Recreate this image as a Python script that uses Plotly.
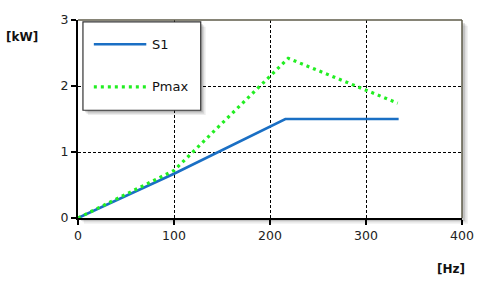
import plotly.graph_objects as go

# Data
hz_s1 = [0, 100, 216, 334]
kw_s1 = [0, 0.67, 1.5, 1.5]
hz_pmax = [0, 100, 219, 333]
kw_pmax = [0, 0.72, 2.42, 1.74]
series_names = ["S1", "Pmax"]
x_ticks = [0, 100, 200, 300, 400]
y_ticks = [0, 1, 2, 3]

W, H = 486, 290
L, R, T, B = 78, 20, 14, 72
PW, PH = W - L - R, H - T - B

def px(x):
    return (x - L) / PW

def py(y):
    return (H - B - y) / PH

S1_COLOR = "#1a6fc4"
PMAX_COLOR = "#22ee22"
FONT = "DejaVu Sans"

fig = go.Figure()
fig.add_trace(go.Scatter(x=hz_s1, y=kw_s1, mode="lines", name=series_names[0],
                         line=dict(color=S1_COLOR, width=2.6), showlegend=False))
fig.add_trace(go.Scatter(x=hz_pmax, y=kw_pmax, mode="lines", name=series_names[1],
                         line=dict(color=PMAX_COLOR, width=3.2, dash="3px,4px"),
                         showlegend=False))

shapes = []
# plot-area shadow
for off, a in [(6, 0.06), (4.5, 0.08), (3, 0.12)]:
    shapes.append(dict(type="rect", xref="paper", yref="paper", layer="below",
                       x0=px(L + off), x1=px(L + PW + off),
                       y0=py(T + off), y1=py(T + PH + off),
                       line=dict(width=0), fillcolor=f"rgba(0,0,0,{a})"))
# white plot background on top of shadow
shapes.append(dict(type="rect", xref="paper", yref="paper", layer="below",
                   x0=0, x1=1, y0=0, y1=1, line=dict(width=0), fillcolor="white"))
# top/right border
shapes.append(dict(type="line", xref="paper", yref="paper", x0=0, x1=1, y0=1, y1=1,
                   line=dict(color="#5e5b48", width=1.5), layer="above"))
shapes.append(dict(type="line", xref="paper", yref="paper", x0=1, x1=1, y0=0, y1=1,
                   line=dict(color="#5e5b48", width=1.5), layer="above"))

# manual legend box with shadow
lx0, lx1, ly0, ly1 = 83, 202, 16, 107
for off, a in [(5, 0.07), (3.5, 0.1), (2, 0.15)]:
    shapes.append(dict(type="rect", xref="paper", yref="paper", layer="above",
                       x0=px(lx0 + off), x1=px(lx1 + off),
                       y0=py(ly1 + off), y1=py(ly0 + off),
                       line=dict(width=0), fillcolor=f"rgba(0,0,0,{a})"))
shapes.append(dict(type="rect", xref="paper", yref="paper", layer="above",
                   x0=px(lx0), x1=px(lx1), y0=py(ly1), y1=py(ly0),
                   line=dict(color="#333333", width=1.2), fillcolor="white"))
shapes.append(dict(type="line", xref="paper", yref="paper", layer="above",
                   x0=px(94), x1=px(147), y0=py(39), y1=py(39),
                   line=dict(color=S1_COLOR, width=2.6)))
shapes.append(dict(type="line", xref="paper", yref="paper", layer="above",
                   x0=px(94), x1=px(147), y0=py(83), y1=py(83),
                   line=dict(color=PMAX_COLOR, width=3.2, dash="3px,4px")))

annotations = [
    dict(text=series_names[0], xref="paper", yref="paper", x=px(151), y=py(39),
         xanchor="left", yanchor="middle", showarrow=False,
         font=dict(family=FONT, size=13, color="#111")),
    dict(text=series_names[1], xref="paper", yref="paper", x=px(151), y=py(83),
         xanchor="left", yanchor="middle", showarrow=False,
         font=dict(family=FONT, size=13, color="#111")),
    dict(text="<b>[kW]</b>", xref="paper", yref="paper", x=px(21), y=py(32),
         xanchor="center", yanchor="middle", showarrow=False,
         font=dict(family=FONT, size=12, color="#111")),
    dict(text="<b>[Hz]</b>", xref="paper", yref="paper", x=px(455), y=py(271),
         xanchor="center", yanchor="middle", showarrow=False,
         font=dict(family=FONT, size=12, color="#111")),
]

axis_common = dict(showgrid=True, gridcolor="#000000", gridwidth=1.3, griddash="3px,2px",
                   zeroline=False, showline=True, linecolor="#000000", linewidth=2,
                   ticks="outside", ticklen=5, tickwidth=1.5, tickcolor="#000000",
                   tickfont=dict(family=FONT, size=12.5, color="#222"))

fig.update_layout(
    width=W, height=H,
    margin=dict(l=L, r=R, t=T, b=B),
    paper_bgcolor="white", plot_bgcolor="rgba(0,0,0,0)",
    xaxis=dict(range=[0, 400], tickvals=x_ticks, **axis_common),
    yaxis=dict(range=[0, 3], tickvals=y_ticks, **axis_common),
    shapes=shapes, annotations=annotations,
    showlegend=False,
)

fig.write_html("out.html")
